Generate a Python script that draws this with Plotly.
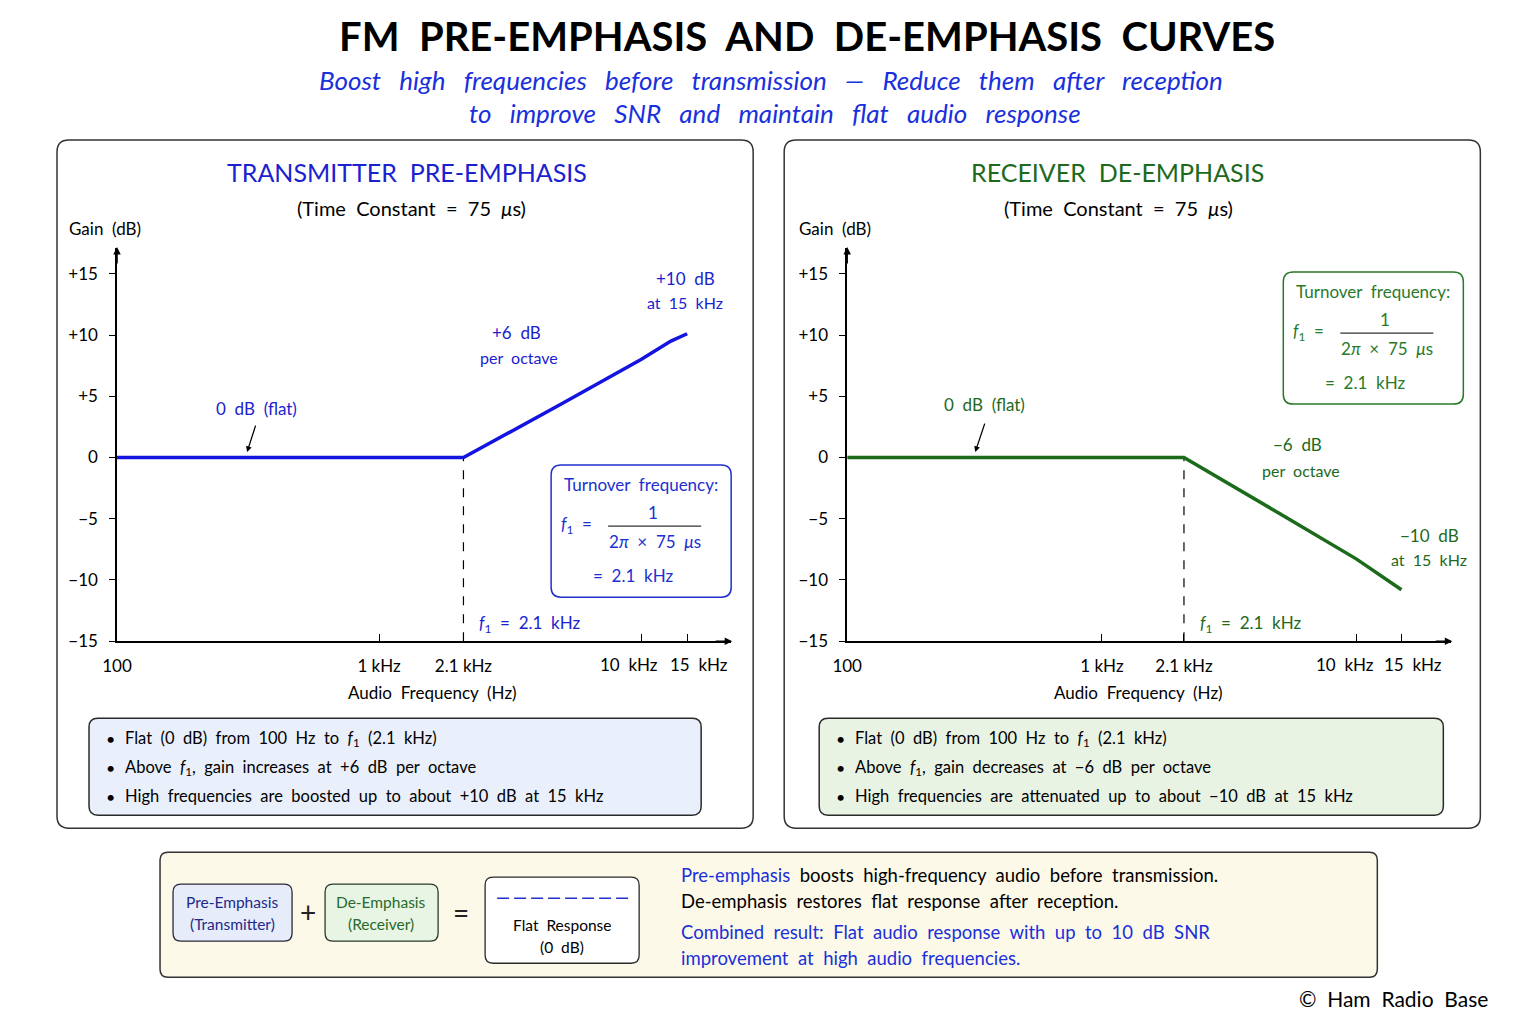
import math
import plotly.graph_objects as go

W, H = 1536, 1024
FONT = "Lato, 'Open Sans', sans-serif"
NB = "\u00a0"

# ---------------- data ----------------
freq_ticks = [100, 1000, 2100, 10000, 15000]
freq_tick_labels = ["100", "1 kHz", "2.1 kHz", "10 kHz", "15 kHz"]
gain_ticks = [15, 10, 5, 0, -5, -10, -15]
gain_tick_labels = ["+15", "+10", "+5", "0", "−5", "−10", "−15"]

freq_pre = [100, 2100, 5000, 10000, 13000, 15000]
gain_pre = [0, 0, 4.4, 8.0, 9.5, 10.1]
freq_de = [100, 2100, 5000, 10000, 15000]
gain_de = [0, 0, -4.6, -8.3, -10.8]
turnover_hz = 2100
gain_floor = -15

BLUE_LINE = "#1414e0"
BLUE = "#1a22d0"
GREEN = "#1d6a1d"
GREEN_LINE = "#1b6b1b"

# layout calibration (pixel layout -> paper)
SX, OX = 0.99, 14.0
SY, OY = 0.99, 0.0


def ws(s, n=1):
    return s.replace(" ", NB * n + " ")


def X(v):
    return ((v - OX) / SX) / W


def Y(v):
    return 1 - ((v - OY) / SY) / H


annotations = []
shapes = []


def txt(x, y, s, size=16, color="black", xanchor="center", bold=False, italic=False):
    annotations.append(dict(
        x=X(x), y=Y(y), xref="paper", yref="paper", text=s, showarrow=False,
        xanchor=xanchor, yanchor="middle",
        font=dict(size=size, color=color, family=FONT,
                  weight=700 if bold else 400, style="italic" if italic else "normal")))


def arrow(xh, yh, ax, ay, color="black", width=1.5, head=2, size=1.0):
    annotations.append(dict(
        x=X(xh), y=Y(yh), xref="paper", yref="paper", text="", showarrow=True,
        ax=ax, ay=ay, axref="pixel", ayref="pixel", arrowhead=head, arrowsize=size,
        arrowwidth=width, arrowcolor=color))


def rrect(x0, y0, x1, y1, r, line_color, fill, width=1.5, layer="below"):
    rx, ry = r / W, r / H
    a, b, c, d = X(x0), X(x1), Y(y0), Y(y1)
    p = (f"M {a+rx},{c} L {b-rx},{c} Q {b},{c} {b},{c-ry} L {b},{d+ry} Q {b},{d} {b-rx},{d} "
         f"L {a+rx},{d} Q {a},{d} {a},{d+ry} L {a},{c-ry} Q {a},{c} {a+rx},{c} Z")
    shapes.append(dict(type="path", path=p, xref="paper", yref="paper",
                       line=dict(color=line_color, width=width), fillcolor=fill, layer=layer))


def hline(x0, x1, y, color="black", width=1.2, dash="solid"):
    shapes.append(dict(type="line", x0=X(x0), x1=X(x1), y0=Y(y), y1=Y(y), xref="paper", yref="paper",
                       line=dict(color=color, width=width, dash=dash), layer="above"))


fig = go.Figure()

# dashed turnover markers
for xa, ya in [("x", "y"), ("x2", "y2")]:
    fig.add_trace(go.Scatter(x=[turnover_hz, turnover_hz], y=[gain_floor, 0], mode="lines",
                             line=dict(color="black", width=1.2, dash="dash"), xaxis=xa, yaxis=ya,
                             hoverinfo="skip", showlegend=False))
# curves
fig.add_trace(go.Scatter(x=freq_pre, y=gain_pre, mode="lines", line=dict(color=BLUE_LINE, width=3.5),
                         xaxis="x", yaxis="y", hoverinfo="skip", showlegend=False))
fig.add_trace(go.Scatter(x=freq_de, y=gain_de, mode="lines", line=dict(color=GREEN_LINE, width=3.5),
                         xaxis="x2", yaxis="y2", hoverinfo="skip", showlegend=False))

n_axis_labels = 3


def xax(domain, rng, anchor):
    return dict(type="log", domain=domain, range=rng, tickvals=freq_ticks,
                ticktext=freq_tick_labels[:n_axis_labels] + [""] * (len(freq_ticks) - n_axis_labels),
                showline=True, linecolor="black", linewidth=1.5, ticks="inside", ticklen=7,
                tickcolor="black", tickwidth=1.3, showgrid=False, zeroline=False, anchor=anchor,
                tickangle=0, ticklabelstandoff=9,
                tickfont=dict(size=17, color="black", family=FONT), fixedrange=True)


def yax(domain, anchor):
    return dict(domain=domain, range=[-15, 17.1], tickvals=gain_ticks, ticktext=gain_tick_labels,
                showline=True, linecolor="black", linewidth=1.5, ticks="outside", ticklen=6,
                tickcolor="black", tickwidth=1.3, showgrid=False, zeroline=False, anchor=anchor,
                ticklabelstandoff=8, tickfont=dict(size=17, color="black", family=FONT), fixedrange=True)


for xr in ["x", "x2"]:
    for fv, lab, sh in zip(freq_ticks[n_axis_labels:], freq_tick_labels[n_axis_labels:], [-12, 12]):
        annotations.append(dict(x=math.log10(fv), y=Y(664), xref=xr, yref="paper", text=ws(lab),
                                showarrow=False, xanchor="center", yanchor="middle", xshift=sh,
                                font=dict(size=17, color="black", family=FONT)))

ydom = [Y(641), Y(248)]

# ---------------- panels ----------------
rrect(56, 140, 752, 828, 12, "#333333", "white", 1.5)
rrect(783, 140, 1479, 828, 12, "#333333", "white", 1.5)

# axis arrows
arrow(731, 641, -18, 0)
arrow(116, 247, 0, 18)
arrow(1451, 641, -18, 0)
arrow(846, 247, 0, 18)

# titles
txt(806, 36, ws("FM PRE-EMPHASIS AND DE-EMPHASIS CURVES"), 40, "black", bold=True)
txt(770, 80, ws("Boost high frequencies before transmission — Reduce them after reception", 2), 26, "#1a30dc", italic=True)
txt(774, 113, ws("to improve SNR and maintain flat audio response", 2), 26, "#1a30dc", italic=True)

txt(406, 172, ws("TRANSMITTER PRE-EMPHASIS"), 25, BLUE)
txt(1116, 172, ws("RECEIVER DE-EMPHASIS"), 25, GREEN)
txt(410, 208, ws("(Time Constant = 75 <i>μ</i>s)"), 20, "black")
txt(1117, 208, ws("(Time Constant = 75 <i>μ</i>s)"), 20, "black")
txt(66, 228, ws("Gain (dB)"), 17, "black", xanchor="left")
txt(796, 228, ws("Gain (dB)"), 17, "black", xanchor="left")
txt(431, 692, ws("Audio Frequency (Hz)"), 17, "black")
txt(1137, 692, ws("Audio Frequency (Hz)"), 17, "black")

# f1 labels next to dashed line (data-anchored)
for xr, yr, col in [("x", "y", BLUE), ("x2", "y2", GREEN)]:
    annotations.append(dict(x=math.log10(turnover_hz), y=-13.6, xref=xr, yref=yr,
                            text=ws("<i>f</i><sub>1</sub> = 2.1 kHz"), showarrow=False,
                            xanchor="left", yanchor="middle", xshift=14,
                            font=dict(size=17, color=col, family=FONT)))

# left panel annotations
txt(255, 408, ws("0 dB (flat)"), 17, BLUE)
arrow(246, 452, 9, -28, "black", 1.3, 2, 0.9)
txt(515, 332, ws("+6 dB"), 17, BLUE)
txt(518, 357, ws("per octave"), 16, BLUE)
txt(684, 278, ws("+10 dB"), 17, BLUE)
txt(684, 302, ws("at 15 kHz"), 16, BLUE)

# right panel annotations
txt(983, 404, ws("0 dB (flat)"), 17, GREEN)
arrow(974, 452, 10, -30, "black", 1.3, 2, 0.9)
txt(1296, 444, ws("−6 dB"), 17, GREEN)
txt(1300, 470, ws("per octave"), 16, GREEN)
txt(1428, 535, ws("−10 dB"), 17, GREEN)
txt(1428, 559, ws("at 15 kHz"), 16, GREEN)


def turnover_box(x0, y0, col):
    rrect(x0, y0, x0 + 180, y0 + 132, 10, col, "white", 1.5, layer="above")
    txt(x0 + 90, y0 + 19, ws("Turnover frequency:"), 17, col)
    txt(x0 + 25, y0 + 60, ws("<i>f</i><sub>1</sub> ="), 17, col)
    txt(x0 + 102, y0 + 47, "1", 17, col)
    hline(x0 + 57, x0 + 150, y0 + 61, "#333333", 1.2)
    txt(x0 + 104, y0 + 76, ws("2<i>π</i> × 75 <i>μ</i>s"), 17, col)
    txt(x0 + 82, y0 + 110, ws("= 2.1 kHz"), 17, col)


turnover_box(550, 465, "#2030d0")
turnover_box(1282, 272, "#2a7a2a")

# bullet boxes
rrect(88, 718, 700, 815, 9, "#2a2a2a", "#eaf0fb", 1.5)
rrect(818, 718, 1442, 815, 9, "#2a2a2a", "#e9f3e4", 1.5)
bul_l = ["Flat (0 dB) from 100 Hz to <i>f</i><sub>1</sub> (2.1 kHz)",
         "Above <i>f</i><sub>1</sub>, gain increases at +6 dB per octave",
         "High frequencies are boosted up to about +10 dB at 15 kHz"]
bul_r = ["Flat (0 dB) from 100 Hz to <i>f</i><sub>1</sub> (2.1 kHz)",
         "Above <i>f</i><sub>1</sub>, gain decreases at −6 dB per octave",
         "High frequencies are attenuated up to about −10 dB at 15 kHz"]
for i, (a, b) in enumerate(zip(bul_l, bul_r)):
    yy = 738 + 29 * i
    txt(103, yy, "•", 16, "black", xanchor="left")
    txt(122, yy, ws(a), 16.5, "black", xanchor="left")
    txt(833, yy, "•", 16, "black", xanchor="left")
    txt(852, yy, ws(b), 16.5, "black", xanchor="left")

# bottom summary box
rrect(159, 852, 1376, 977, 8, "#333333", "#fcf9e9", 1.5)
rrect(172, 884, 291, 941, 8, "#2a2a3a", "#e6ecfa", 1.3)
rrect(324, 884, 437, 941, 8, "#2a3a2a", "#e8f4e4", 1.3)
rrect(484, 877, 638, 963, 8, "#2a2a2a", "white", 1.3)
txt(231, 902, ws("Pre-Emphasis"), 15.5, "#1c2a8a")
txt(231, 924, "(Transmitter)", 15.5, "#1c2a8a")
txt(380, 902, ws("De-Emphasis"), 15.5, "#2a6a2a")
txt(380, 924, "(Receiver)", 15.5, "#2a6a2a")
txt(307, 912, "+", 28, "#222")
txt(460, 912, "=", 28, "#222")
shapes.append(dict(type="line", x0=X(496), x1=X(628), y0=Y(898), y1=Y(898), xref="paper", yref="paper",
                   line=dict(color="#2233cc", width=1.6, dash="12px,5px"), layer="above"))
txt(561, 925, ws("Flat Response"), 15.5, "black")
txt(561, 947, ws("(0 dB)"), 15.5, "black")

txt(678, 875, f"<span style='color:#1a30d8'>{ws('Pre-emphasis')}</span>"
    + ws(" boosts high-frequency audio before transmission."), 18.5, "black", xanchor="left")
txt(678, 901, ws("De-emphasis restores flat response after reception."), 18.5, "black", xanchor="left")
txt(678, 932, ws("Combined result: Flat audio response with up to 10 dB SNR"), 18.5, "#1a30d8", xanchor="left")
txt(678, 958, ws("improvement at high audio frequencies."), 18.5, "#1a30d8", xanchor="left")

txt(1489, 998, ws("© Ham Radio Base"), 21, "black", xanchor="right")

fig.update_layout(
    width=W, height=H, autosize=False, margin=dict(l=0, r=0, t=0, b=0),
    paper_bgcolor="white", plot_bgcolor="rgba(0,0,0,0)", showlegend=False,
    font=dict(family=FONT, color="black"),
    xaxis=xax([X(116), X(730)], [2, 4.344], "y"),
    yaxis=yax(ydom, "x"),
    xaxis2=xax([X(846), X(1450)], [2, 4.372], "y2"),
    yaxis2=yax(ydom, "x2"),
    annotations=annotations, shapes=shapes,
)

fig.write_html("out.html")
